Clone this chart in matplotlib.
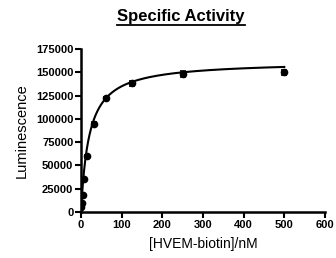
import numpy as np
import matplotlib
matplotlib.use("Agg")
import matplotlib.pyplot as plt
from matplotlib.lines import Line2D

plt.rcParams['font.family'] = ['Liberation Sans', 'DejaVu Sans']

# measured points
conc = [0.98, 1.95, 3.9, 7.8, 15.6, 31.25, 62.5, 125, 250, 500]
lum = [5000, 10000, 18000, 35000, 60000, 95000, 122000, 138000, 148000, 150000]
err = [800, 900, 1200, 1500, 1500, 2000, 2000, 3000, 3000, 2500]

# one-site binding fit parameters
bmax = 162000
kd = 20.0

fig = plt.figure(figsize=(3.36, 2.58), dpi=100)
ax = fig.add_axes([0.241, 0.178, 0.726, 0.632])

xfit = np.linspace(0, 500, 600)
ax.plot(xfit, bmax * xfit / (kd + xfit), color='black', lw=1.5, zorder=2)
ax.errorbar(conc, lum, yerr=err, fmt='o', color='black', ms=4.5,
            capsize=2.5, elinewidth=1.2, capthick=1.2, zorder=3)

ax.set_xlim(0, 600)
ax.set_ylim(0, 175000)
ax.set_xticks(range(0, 601, 100))
ax.set_yticks(range(0, 175001, 25000))
for s in ['top', 'right']:
    ax.spines[s].set_visible(False)
for s in ['left', 'bottom']:
    ax.spines[s].set_linewidth(1.8)
ax.tick_params(width=1.5, length=4, labelsize=8, pad=1.5)
for lab in ax.get_xticklabels() + ax.get_yticklabels():
    lab.set_fontweight('bold')

ax.set_xlabel('[HVEM-biotin]/nM', fontsize=10, labelpad=5)
ax.set_ylabel('Luminescence', fontsize=10.5, labelpad=5)

title = fig.text(0.539, 0.935, 'Specific Activity', ha='center', va='center',
                 fontsize=12, fontweight='bold')
fig.canvas.draw()
bb = title.get_window_extent().transformed(fig.transFigure.inverted())
fig.add_artist(Line2D([bb.x0, bb.x1], [bb.y0 - 0.004, bb.y0 - 0.004],
                      color='black', lw=1.3, transform=fig.transFigure))

fig.savefig('out.png', dpi=100)
